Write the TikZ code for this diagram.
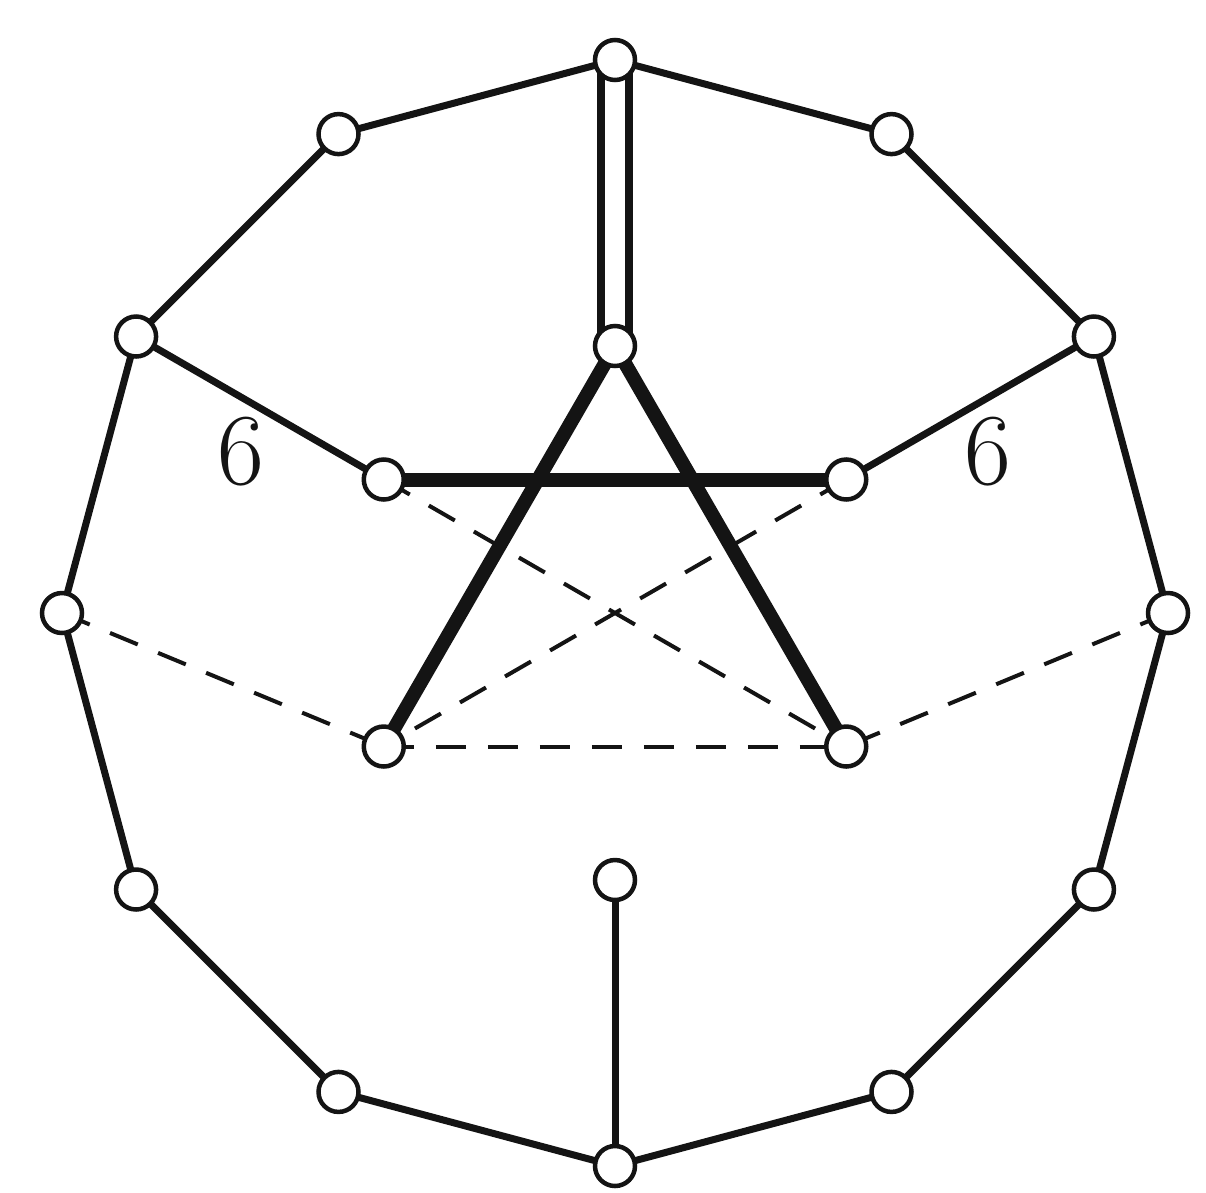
\documentclass[tikz,border=0pt]{standalone}
\usetikzlibrary{backgrounds}
\begin{document}
\begin{tikzpicture}[x=1pt,y=-1pt,
  vtx/.style={circle,draw=black!92,fill=white,line width=4.5pt,minimum size=40pt,inner sep=0pt},
  edge/.style={draw=black!92,line width=7pt},
  thickedge/.style={draw=black!92,line width=14pt},
  dashedge/.style={draw=black!92,line width=4pt,dash pattern=on 30pt off 22pt},
  dbl/.style={draw=black!92,line width=8pt,double=white,double distance=20pt},
  lbl/.style={font=\fontsize{102}{102}\selectfont,text=black!92}]
\useasboundingbox (0,0) rectangle (1206,1192);
% outer 12 nodes
\foreach \i in {0,...,11}{
  \node[vtx] (o\i) at ({615+553*sin(30*\i)},{613-553*cos(30*\i)}) {};
}
% inner 6 nodes
\foreach \i in {0,...,5}{
  \node[vtx] (n\i) at ({615+267*sin(60*\i)},{613-267*cos(60*\i)}) {};
}
\node[lbl] (l1) at (241,452) {6};
\node[lbl] (l2) at (988,452) {6};
\begin{pgfonlayer}{background}
  \foreach \i [evaluate=\i as \j using {int(mod(\i+1,12))}] in {0,...,11}{
    \draw[edge] (o\i.center) -- (o\j.center);
  }
  \draw[dbl] (o0.center) -- (n0.center);
  \draw[edge] (o10.center) -- (n5.center);
  \draw[edge] (o2.center) -- (n1.center);
  \draw[edge] (n3.center) -- (o6.center);
  \draw[thickedge] (n5.center) -- (n1.center);
  \draw[thickedge] (n0.center) -- (n4.center);
  \draw[thickedge] (n0.center) -- (n2.center);
  \draw[dashedge] (n5.center) -- (n2.center);
  \draw[dashedge] (n1.center) -- (n4.center);
  \draw[dashedge] (n4.center) -- (n2.center);
  \draw[dashedge] (o9.center) -- (n4.center);
  \draw[dashedge] (o3.center) -- (n2.center);
\end{pgfonlayer}
\end{tikzpicture}
\end{document}
